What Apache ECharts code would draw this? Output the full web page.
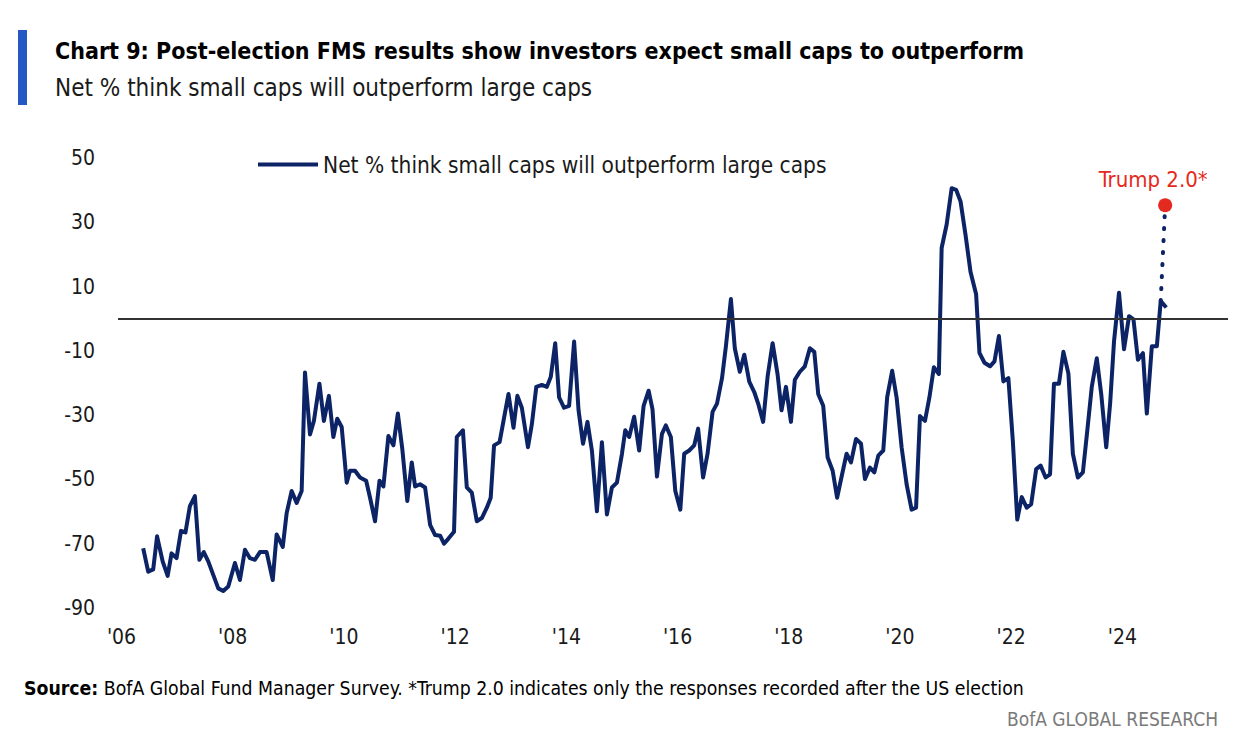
<!DOCTYPE html>
<html>
<head>
<meta charset="utf-8">
<script src="https://cdn.jsdelivr.net/npm/echarts@6/dist/echarts.min.js"></script>
<style>
  html, body { margin: 0; padding: 0; background: #fff; }
  #chart { width: 1240px; height: 750px; }
</style>
</head>
<body>
<div id="chart"></div>
<script>
// survey dates as decimal years
const dates = [
  2006.39, 2006.48, 2006.57, 2006.64, 2006.74, 2006.83, 2006.90, 2006.99,
  2007.07, 2007.15, 2007.23, 2007.32, 2007.40, 2007.48, 2007.56, 2007.65, 2007.74, 2007.83, 2007.92,
  2008.04, 2008.13, 2008.22, 2008.31, 2008.40, 2008.49, 2008.61, 2008.72, 2008.79, 2008.90, 2008.97,
  2009.06, 2009.15, 2009.24, 2009.30, 2009.39, 2009.46, 2009.56, 2009.64, 2009.73, 2009.81, 2009.88, 2009.96,
  2010.05, 2010.11, 2010.20, 2010.29, 2010.40, 2010.47, 2010.56, 2010.64, 2010.71, 2010.80, 2010.89, 2010.97,
  2011.05, 2011.14, 2011.22, 2011.28, 2011.37, 2011.46, 2011.55, 2011.64, 2011.73, 2011.80, 2011.88, 2011.98,
  2012.03, 2012.14, 2012.21, 2012.30, 2012.39, 2012.48, 2012.57, 2012.64, 2012.70, 2012.80, 2012.87, 2012.96,
  2013.05, 2013.12, 2013.20, 2013.31, 2013.38, 2013.46, 2013.56, 2013.65, 2013.72, 2013.80, 2013.87, 2013.96,
  2014.05, 2014.14, 2014.22, 2014.30, 2014.38, 2014.46, 2014.55, 2014.64, 2014.73, 2014.82, 2014.91,
  2015.00, 2015.06, 2015.13, 2015.22, 2015.31, 2015.39, 2015.48, 2015.55, 2015.63, 2015.72, 2015.79, 2015.88, 2015.96,
  2016.05, 2016.12, 2016.21, 2016.30, 2016.37, 2016.46, 2016.54, 2016.63, 2016.71, 2016.80, 2016.87, 2016.96,
  2017.03, 2017.12, 2017.20, 2017.29, 2017.38, 2017.45, 2017.54, 2017.62, 2017.71, 2017.80, 2017.87, 2017.95,
  2018.04, 2018.11, 2018.20, 2018.29, 2018.38, 2018.46, 2018.53, 2018.62, 2018.70, 2018.79, 2018.87, 2018.96,
  2019.04, 2019.12, 2019.21, 2019.30, 2019.37, 2019.46, 2019.54, 2019.61, 2019.70, 2019.77, 2019.86, 2019.94,
  2020.03, 2020.12, 2020.21, 2020.29, 2020.36, 2020.45, 2020.53, 2020.61, 2020.70, 2020.75, 2020.84, 2020.93,
  2021.01, 2021.09, 2021.18, 2021.27, 2021.37, 2021.43, 2021.52, 2021.62, 2021.70, 2021.78, 2021.86, 2021.95,
  2022.03, 2022.11, 2022.19, 2022.28, 2022.36, 2022.45, 2022.53, 2022.62, 2022.70, 2022.77, 2022.86, 2022.94,
  2023.03, 2023.11, 2023.20, 2023.29, 2023.37, 2023.45, 2023.54, 2023.62, 2023.71, 2023.78, 2023.85, 2023.94,
  2024.03, 2024.12, 2024.20, 2024.28, 2024.37, 2024.44, 2024.53, 2024.62, 2024.69, 2024.79
];

const netPct = [
  -71.4, -78.7, -78, -67.7, -75.5, -80, -73, -74.5,
  -66, -66.5, -58.3, -55.2, -75, -72.6, -75.5, -79.7, -83.9, -84.7, -83.3,
  -76, -81.3, -71.9, -74.5, -75, -72.6, -72.6, -81.3, -67.1, -71, -60.5,
  -53.6, -57.3, -53.6, -16.7, -36, -31.8, -20.2, -31.8, -24, -36.8, -31.1, -33.7,
  -51, -47.3, -47.3, -49.4, -50.4, -55.7, -63, -50.4, -52.2, -36.5, -39.4, -29.5,
  -40.5, -56.7, -44.7, -52.2, -51.5, -52.5, -64.1, -67.3, -67.5, -70, -68.4, -66.3,
  -36.8, -34.7, -52.5, -54.1, -63, -62, -58.8, -55.7, -39.4, -38.4, -31.8, -23.4,
  -33.9, -24, -27.7, -40, -32.8, -21.2, -20.6, -21.2, -18.1, -7.6, -24.5, -27.7,
  -27.1, -7.1, -28.5, -38.9, -32.1, -41, -59.9, -38.4, -60.9, -52.5, -51,
  -42.1, -34.7, -36.8, -30.5, -41, -27.1, -22.4, -28.2, -49.1, -35.8, -33.2, -36.8, -53.6,
  -59.4, -42, -41, -39.4, -34.2, -49.4, -42, -29, -26.4, -18.5, -8.6, 6.1,
  -9.2, -16.5, -11.2, -19.6, -22.8, -26.4, -32.1, -18, -7.6, -17.4, -28.5, -21.2,
  -32.1, -19, -16.5, -14.8, -9.2, -10.3, -23.4, -27.1, -43.2, -47.3, -55.7, -48.4,
  -42, -44.7, -37.4, -38.9, -49.9, -46.3, -47.8, -42.6, -41, -24.5, -16.2, -24.5,
  -40, -51.5, -59.4, -58.8, -30.3, -31.8, -24.5, -15.1, -17.2, 22, 29.3, 40.6,
  40.1, 36.5, 26, 14.5, 7.6, -10.6, -13.7, -14.8, -13.3, -5.4, -19.5, -18.5,
  -37.9, -62.5, -55.5, -58.8, -57.7, -46.8, -45.7, -49.4, -48.4, -20.2, -20.2, -10.3,
  -17.1, -42, -49.4, -47.8, -34.7, -21.2, -12.3, -23.4, -40, -26.4, -7.1, 8.1,
  -9.5, 0.8, -0.2, -12.8, -10.7, -29.5, -8.6, -8.6, 5.5, 3.5
];

// post-election reading
const trumpDate = 2024.77;
const trumpValue = 35.3;

const yearTicks = [2006, 2008, 2010, 2012, 2014, 2016, 2018, 2020, 2022, 2024];
const yLabels = [-90, -70, -50, -30, -10, 10, 30, 50];

const seriesName = 'Net % think small caps will outperform large caps';
const NAVY = '#0c2366';
const RED = '#e42a20';
const NARROW = '"DejaVu Sans Condensed", "Liberation Sans Narrow", "DejaVu Sans", sans-serif';

const getOption = () => {
  const line = dates.map((d, i) => [d, netPct[i]]);
  const last = dates.length - 2;
  return {
    animation: false,
    backgroundColor: '#fff',
    textStyle: { fontFamily: NARROW },
    grid: { left: 118, right: 12, top: 158, bottom: 142 },
    legend: {
      data: [seriesName],
      left: 253,
      top: 148,
      icon: 'rect',
      itemWidth: 60,
      itemHeight: 4,
      itemGap: 6,
      textStyle: { fontSize: 22.5, color: '#1a1a1a', fontFamily: NARROW }
    },
    xAxis: {
      type: 'value',
      min: 2005.937,
      max: 2025.9,
      axisLine: { show: false },
      axisTick: { show: false },
      splitLine: { show: false },
      axisLabel: {
        customValues: yearTicks,
        formatter: (v) => "'" + String(v).slice(2),
        fontSize: 21,
        color: '#1a1a1a',
        margin: 18,
        fontFamily: NARROW
      }
    },
    yAxis: {
      type: 'value',
      min: -90,
      max: 50,
      interval: 10,
      axisLine: { show: false },
      axisTick: { show: false },
      splitLine: { show: false },
      axisLabel: {
        formatter: (v) => (yLabels.indexOf(v) >= 0 ? String(v) : ''),
        fontSize: 21,
        color: '#1a1a1a',
        margin: 23,
        fontFamily: NARROW
      }
    },
    series: [
      {
        name: seriesName,
        type: 'line',
        data: line,
        showSymbol: false,
        color: NAVY,
        lineStyle: { width: 4, color: NAVY, join: 'round' },
        z: 3,
        markLine: {
          silent: true,
          symbol: 'none',
          label: { show: false },
          lineStyle: { color: '#333', width: 2, type: 'solid' },
          data: [{ yAxis: 0 }]
        }
      },
      {
        name: 'dots',
        type: 'line',
        data: [[dates[last], netPct[last]], [trumpDate, trumpValue]],
        showSymbol: false,
        lineStyle: { width: 4, color: NAVY, type: [1, 11], cap: 'round' },
        z: 2
      },
      {
        name: 'Trump 2.0*',
        type: 'scatter',
        data: [[trumpDate, trumpValue]],
        symbolSize: 14,
        itemStyle: { color: RED, opacity: 1 },
        z: 4,
        label: {
          show: true,
          position: 'top',
          distance: 8,
          offset: [-12, 0],
          formatter: 'Trump 2.0*',
          color: RED,
          fontSize: 22,
          fontFamily: NARROW
        }
      }
    ],
    graphic: [
      { type: 'rect', left: 18, top: 30, shape: { width: 9, height: 75 }, style: { fill: '#2557c5' } },
      {
        type: 'text', left: 55, top: 39,
        style: { text: 'Chart 9: Post-election FMS results show investors expect small caps to outperform', font: 'bold 23px ' + NARROW, fill: '#000' }
      },
      {
        type: 'text', left: 55, top: 76,
        style: { text: 'Net % think small caps will outperform large caps', font: '24px ' + NARROW, fill: '#1a1a1a' }
      },
      {
        type: 'text', left: 24, top: 679,
        style: {
          text: '{b|Source:} BofA Global Fund Manager Survey. *Trump 2.0 indicates only the responses recorded after the US election',
          font: '19.3px ' + NARROW,
          fill: '#000',
          rich: { b: { fontWeight: 'bold', fontSize: 19.3, fontFamily: NARROW, fill: '#000' } }
        }
      },
      {
        type: 'text', right: 22, top: 709,
        style: { text: 'BofA GLOBAL RESEARCH', font: '19px ' + NARROW, fill: '#7a7a7a' }
      }
    ]
  };
};

const initChart = () => {
  const chart = echarts.init(document.getElementById('chart'), null, { renderer: 'svg' });
  chart.setOption(getOption());
};

window.addEventListener('load', () => {
  initChart();
});
</script>
</body>
</html>
